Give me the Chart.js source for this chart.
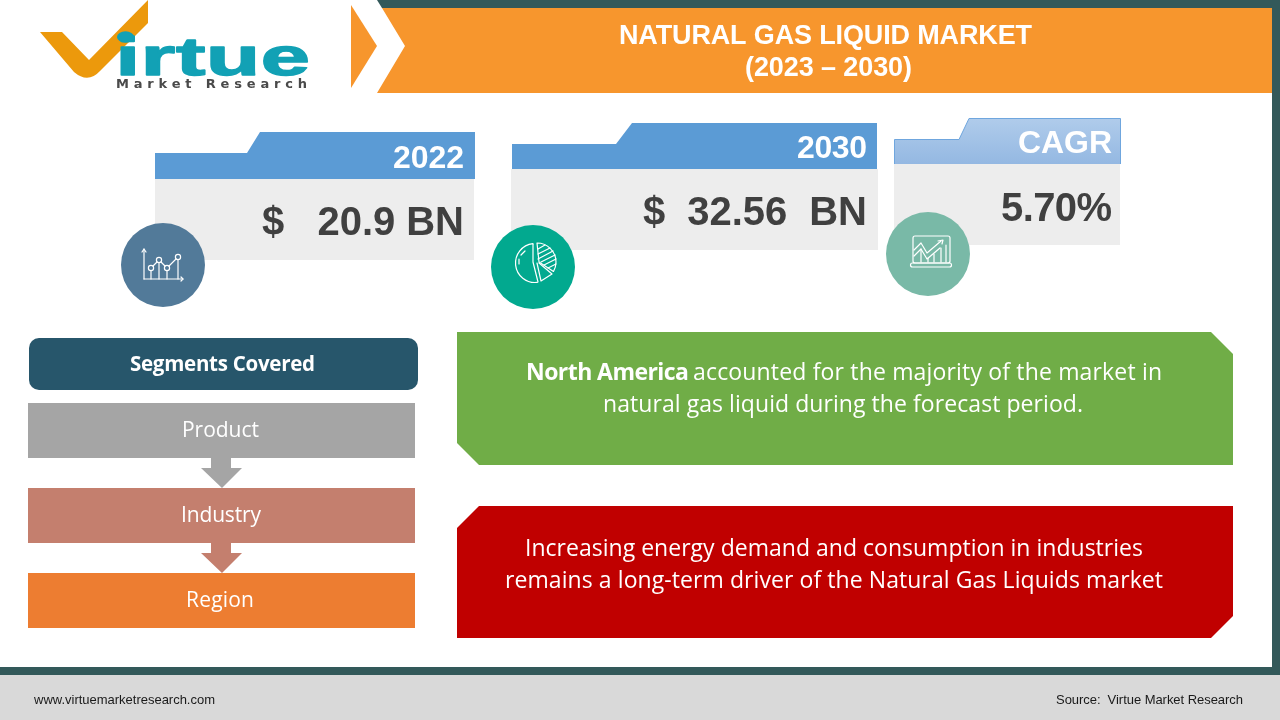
<!DOCTYPE html>
<html><head><meta charset="utf-8">
<style>html,body{margin:0;padding:0;background:#fff;overflow:hidden}#wrap{position:absolute;left:0;top:0;width:1280px;height:720px}canvas{display:block}</style>
<script src="https://cdn.jsdelivr.net/npm/chart.js@4/dist/chart.umd.js"></script>
</head><body><div id="wrap"><canvas id="c" width="1280" height="720"></canvas></div>
<script>
const titleLines = ["NATURAL GAS LIQUID MARKET", "(2023 – 2030)"];
const cardLabels = ["2022", "2030", "CAGR"];
const cardValues = [20.9, 32.56, 5.70];
const segmentsTitle = "Segments Covered";
const segments = ["Product", "Industry", "Region"];
const greenBold = "North America";
const greenLines = [" accounted for the majority of the market in", "natural gas liquid during the forecast period."];
const redLines = ["Increasing energy demand and consumption in industries", "remains a long-term driver of the Natural Gas Liquids market"];
const footerLeft = "www.virtuemarketresearch.com";
const footerRight = "Source:  Virtue Market Research";

const SANS = '"Liberation Sans", Arial, sans-serif';
const HUM = '"Open Sans", "Noto Sans", sans-serif';
const cardText = [
  "$   " + cardValues[0].toFixed(1) + " BN",
  "$  " + cardValues[1].toFixed(2) + "  BN",
  cardValues[2].toFixed(2) + "%"
];

function poly(ctx, pts, fill, stroke, lw) {
  ctx.beginPath();
  pts.forEach((p, i) => i ? ctx.lineTo(p[0], p[1]) : ctx.moveTo(p[0], p[1]));
  ctx.closePath();
  if (fill) { ctx.fillStyle = fill; ctx.fill(); }
  if (stroke) { ctx.strokeStyle = stroke; ctx.lineWidth = lw || 1; ctx.stroke(); }
}
function rect(ctx, x, y, w, h, fill) { ctx.fillStyle = fill; ctx.fillRect(x, y, w, h); }
// Draw text on a baseline, spanning x0..x1 by fine-tuning letter spacing.
function span(ctx, s, x0, x1, y, font, color) {
  ctx.font = font; ctx.fillStyle = color; ctx.textAlign = "left"; ctx.textBaseline = "alphabetic";
  ctx.letterSpacing = "0px";
  const w = ctx.measureText(s).width;
  const ls = (x1 - x0 - w) / Math.max(1, s.length - 1);
  ctx.letterSpacing = ls.toFixed(3) + "px";
  ctx.fillText(s, x0, y);
  ctx.letterSpacing = "0px";
}
function line(ctx, pts) {
  ctx.beginPath();
  pts.forEach((p, i) => i ? ctx.lineTo(p[0], p[1]) : ctx.moveTo(p[0], p[1]));
  ctx.stroke();
}
function dot(ctx, x, y, r) { ctx.beginPath(); ctx.arc(x, y, r, 0, Math.PI * 2); ctx.stroke(); }

const infographic = {
  id: "infographic",
  beforeDatasetsDraw(chart) {
    const ctx = chart.ctx;
    ctx.save();
    rect(ctx, 0, 0, 1280, 720, "#ffffff");
    // frame
    const TEAL = "#33595a";
    poly(ctx, [[377, 0], [1280, 0], [1280, 8], [382, 8]], TEAL);
    rect(ctx, 1272, 0, 8, 675, TEAL);
    rect(ctx, 0, 667, 1280, 8, TEAL);
    rect(ctx, 0, 675, 1280, 45, "#d9d9d9");
    // banner
    const OR = "#f7962d";
    poly(ctx, [[382, 8], [1272, 8], [1272, 93], [377, 93], [405, 46]], OR);
    poly(ctx, [[351, 5], [377, 46], [351, 88]], OR);
    span(ctx, titleLines[0], 619, 1032, 44, "bold 27px " + SANS, "#fff");
    span(ctx, titleLines[1], 745, 912, 76, "bold 27px " + SANS, "#fff");
    // logo
    ctx.beginPath();
    ctx.moveTo(40, 32); ctx.lineTo(62, 32); ctx.lineTo(89, 60); ctx.lineTo(148, 0);
    ctx.lineTo(148, 23); ctx.lineTo(100, 71);
    ctx.quadraticCurveTo(88, 84, 74, 72); ctx.closePath();
    ctx.fillStyle = "#ec990c"; ctx.fill();
    ctx.save();
    ctx.translate(115.5, 74.5); ctx.scale(1.64, 1);
    ctx.font = "bold 54px " + SANS; ctx.textAlign = "left"; ctx.textBaseline = "alphabetic";
    ctx.fillStyle = "#12a1b5"; ctx.strokeStyle = "#12a1b5"; ctx.lineWidth = 1.4; ctx.lineJoin = "round";
    ctx.letterSpacing = "0.4px";
    ctx.fillText("irtue", 0, 0);
    ctx.strokeText("irtue", 0, 0);
    ctx.letterSpacing = "0px";
    ctx.restore();
    ctx.beginPath(); ctx.ellipse(125.5, 37, 8.5, 5.8, 0, 0, Math.PI * 2); ctx.fillStyle = "#12a1b5"; ctx.fill();
    span(ctx, "Market Research", 116, 307, 87.5, "bold 13px 'DejaVu Sans', sans-serif", "#4a4a4a");

    // cards
    const BLUE = "#5b9bd5", GREY = "#ededed", INK = "#404040";
    rect(ctx, 155, 179, 319, 81, GREY);
    poly(ctx, [[155, 153], [247, 153], [260, 132], [475, 132], [475, 179], [155, 179]], BLUE);
    rect(ctx, 511, 169, 367, 81, GREY);
    poly(ctx, [[512, 144], [616, 144], [632, 123], [877, 123], [877, 169], [512, 169]], BLUE);
    rect(ctx, 894, 164, 226, 81, GREY);
    const g = ctx.createLinearGradient(0, 118, 0, 164);
    g.addColorStop(0, "#b0cceb"); g.addColorStop(1, "#94b8e2");
    const tab3 = [[894.5, 164], [894.5, 139.5], [959, 139.5], [969, 118.5], [1120.5, 118.5], [1120.5, 164]];
    poly(ctx, tab3, g);
    ctx.strokeStyle = "#6fa6de"; ctx.lineWidth = 1; line(ctx, tab3);

    span(ctx, cardLabels[0], 393, 464, 168, "bold 32px " + SANS, "#fff");
    span(ctx, cardLabels[1], 797, 867, 158, "bold 32px " + SANS, "#fff");
    span(ctx, cardLabels[2], 1018, 1112, 153, "bold 32px " + SANS, "#fff");
    span(ctx, cardText[0], 262, 464, 235, "bold 40px " + SANS, INK);
    span(ctx, cardText[1], 643, 867, 225, "bold 40px " + SANS, INK);
    span(ctx, cardText[2], 1001, 1112, 221, "bold 40px " + SANS, INK);

    // circles
    [[163, 265, "#527a99"], [533, 267, "#02a98f"], [928, 254, "#79b9a7"]].forEach(c => {
      ctx.beginPath(); ctx.arc(c[0], c[1], 42, 0, Math.PI * 2); ctx.fillStyle = c[2]; ctx.fill();
    });
    // icon 1
    ctx.strokeStyle = "#fff"; ctx.lineWidth = 1.2; ctx.lineCap = "round"; ctx.lineJoin = "round";
    line(ctx, [[144, 279], [144, 249]]); line(ctx, [[142, 252], [144, 249], [146, 252]]);
    line(ctx, [[144, 279], [183, 279]]); line(ctx, [[181, 277], [183, 279], [181, 281]]);
    const p1 = [[151, 268], [159, 260], [167, 268], [178, 257]];
    p1.forEach(p => { dot(ctx, p[0], p[1], 2.6); line(ctx, [[p[0], p[1] + 3], [p[0], 279]]); });
    line(ctx, [[153, 266], [157, 262]]); line(ctx, [[161, 262], [165, 266]]); line(ctx, [[169, 266], [176, 259]]);
    // icon 2
    ctx.beginPath(); ctx.moveTo(533, 244); ctx.arc(535, 263, 19.5, -1.68, 1.45, true); ctx.stroke();
    line(ctx, [[533, 244], [533, 262], [538, 282]]);
    ctx.beginPath(); ctx.moveTo(537, 243); ctx.arc(537, 262, 19, -Math.PI / 2, 0.52); ctx.lineTo(539, 262); ctx.closePath(); ctx.stroke();
    line(ctx, [[539, 263], [552, 274], [541, 281], [537, 263]]);
    [[538, 249, 545, 245], [538, 254, 550, 248], [538, 259, 553, 251], [541, 262, 555, 255], [544, 265, 556, 259], [548, 268, 556, 264]].forEach(h => line(ctx, [[h[0], h[1]], [h[2], h[3]]]));
    line(ctx, [[519, 264], [519, 259]]); line(ctx, [[521, 255], [525, 251]]);
    // icon 3
    ctx.beginPath(); ctx.roundRect(913, 236, 37, 27, 2); ctx.stroke();
    ctx.beginPath(); ctx.roundRect(910.5, 263, 41, 4, 2); ctx.stroke();
    line(ctx, [[914, 250], [921, 243], [927, 253], [941, 241]]);
    line(ctx, [[938, 241], [943, 240], [942, 244]]);
    line(ctx, [[914, 256], [921, 249], [927, 259], [940, 248]]);
    line(ctx, [[921, 249], [921, 262]]); line(ctx, [[928, 258], [928, 262]]);
    line(ctx, [[934, 254], [934, 262]]); line(ctx, [[941, 248], [941, 262]]);
    line(ctx, [[946, 245], [946, 262]]);

    // segments
    ctx.beginPath(); ctx.roundRect(29, 338, 389, 52, 10); ctx.fillStyle = "#27566b"; ctx.fill();
    span(ctx, segmentsTitle, 130, 315, 371, "bold 20.5px " + HUM, "#fff");
    const segColors = ["#a5a5a5", "#c47f6e", "#ed7d31"];
    const segY = [403, 488, 573];
    const segX = [[182, 259], [181, 261], [186, 254]];
    segments.forEach((s, i) => {
      rect(ctx, 28, segY[i], 387, 55, segColors[i]);
      if (i < 2) {
        const t = segY[i] + 55;
        poly(ctx, [[211, t], [231, t], [231, t + 10], [242, t + 10], [222, t + 30], [201, t + 10], [211, t + 10]], segColors[i]);
      }
      span(ctx, s, segX[i][0], segX[i][1], segY[i] + 34, "21px " + HUM, "#fff");
    });

    // callouts
    poly(ctx, [[457, 332], [1211, 332], [1233, 354], [1233, 465], [479, 465], [457, 443]], "#70ad47");
    poly(ctx, [[479, 506], [1233, 506], [1233, 616], [1211, 638], [457, 638], [457, 528]], "#c00000");
    span(ctx, greenBold, 526, 689, 380, "bold 23px " + HUM, "#fff");
    span(ctx, greenLines[0].trim(), 693, 1162, 380, "23px " + HUM, "#fff");
    span(ctx, greenLines[1], 603, 1083, 412, "23px " + HUM, "#fff");
    span(ctx, redLines[0], 525, 1143, 556, "23px " + HUM, "#fff");
    span(ctx, redLines[1], 505, 1163, 588, "23px " + HUM, "#fff");

    // footer
    span(ctx, footerLeft, 34, 215, 704, "13px " + SANS, "#1a1a1a");
    span(ctx, footerRight, 1056, 1243, 704, "13px " + SANS, "#1a1a1a");
    ctx.restore();
  }
};

new Chart(document.getElementById("c"), {
  type: "bar",
  data: { labels: cardLabels, datasets: [{ label: "Market", data: cardValues, backgroundColor: "rgba(0,0,0,0)", borderWidth: 0 }] },
  plugins: [infographic],
  options: {
    responsive: false, animation: false, devicePixelRatio: 1,
    layout: { padding: 0 },
    plugins: { legend: { display: false }, tooltip: { enabled: false }, title: { display: false } },
    scales: { x: { display: false }, y: { display: false } }
  }
});
</script></body></html>
